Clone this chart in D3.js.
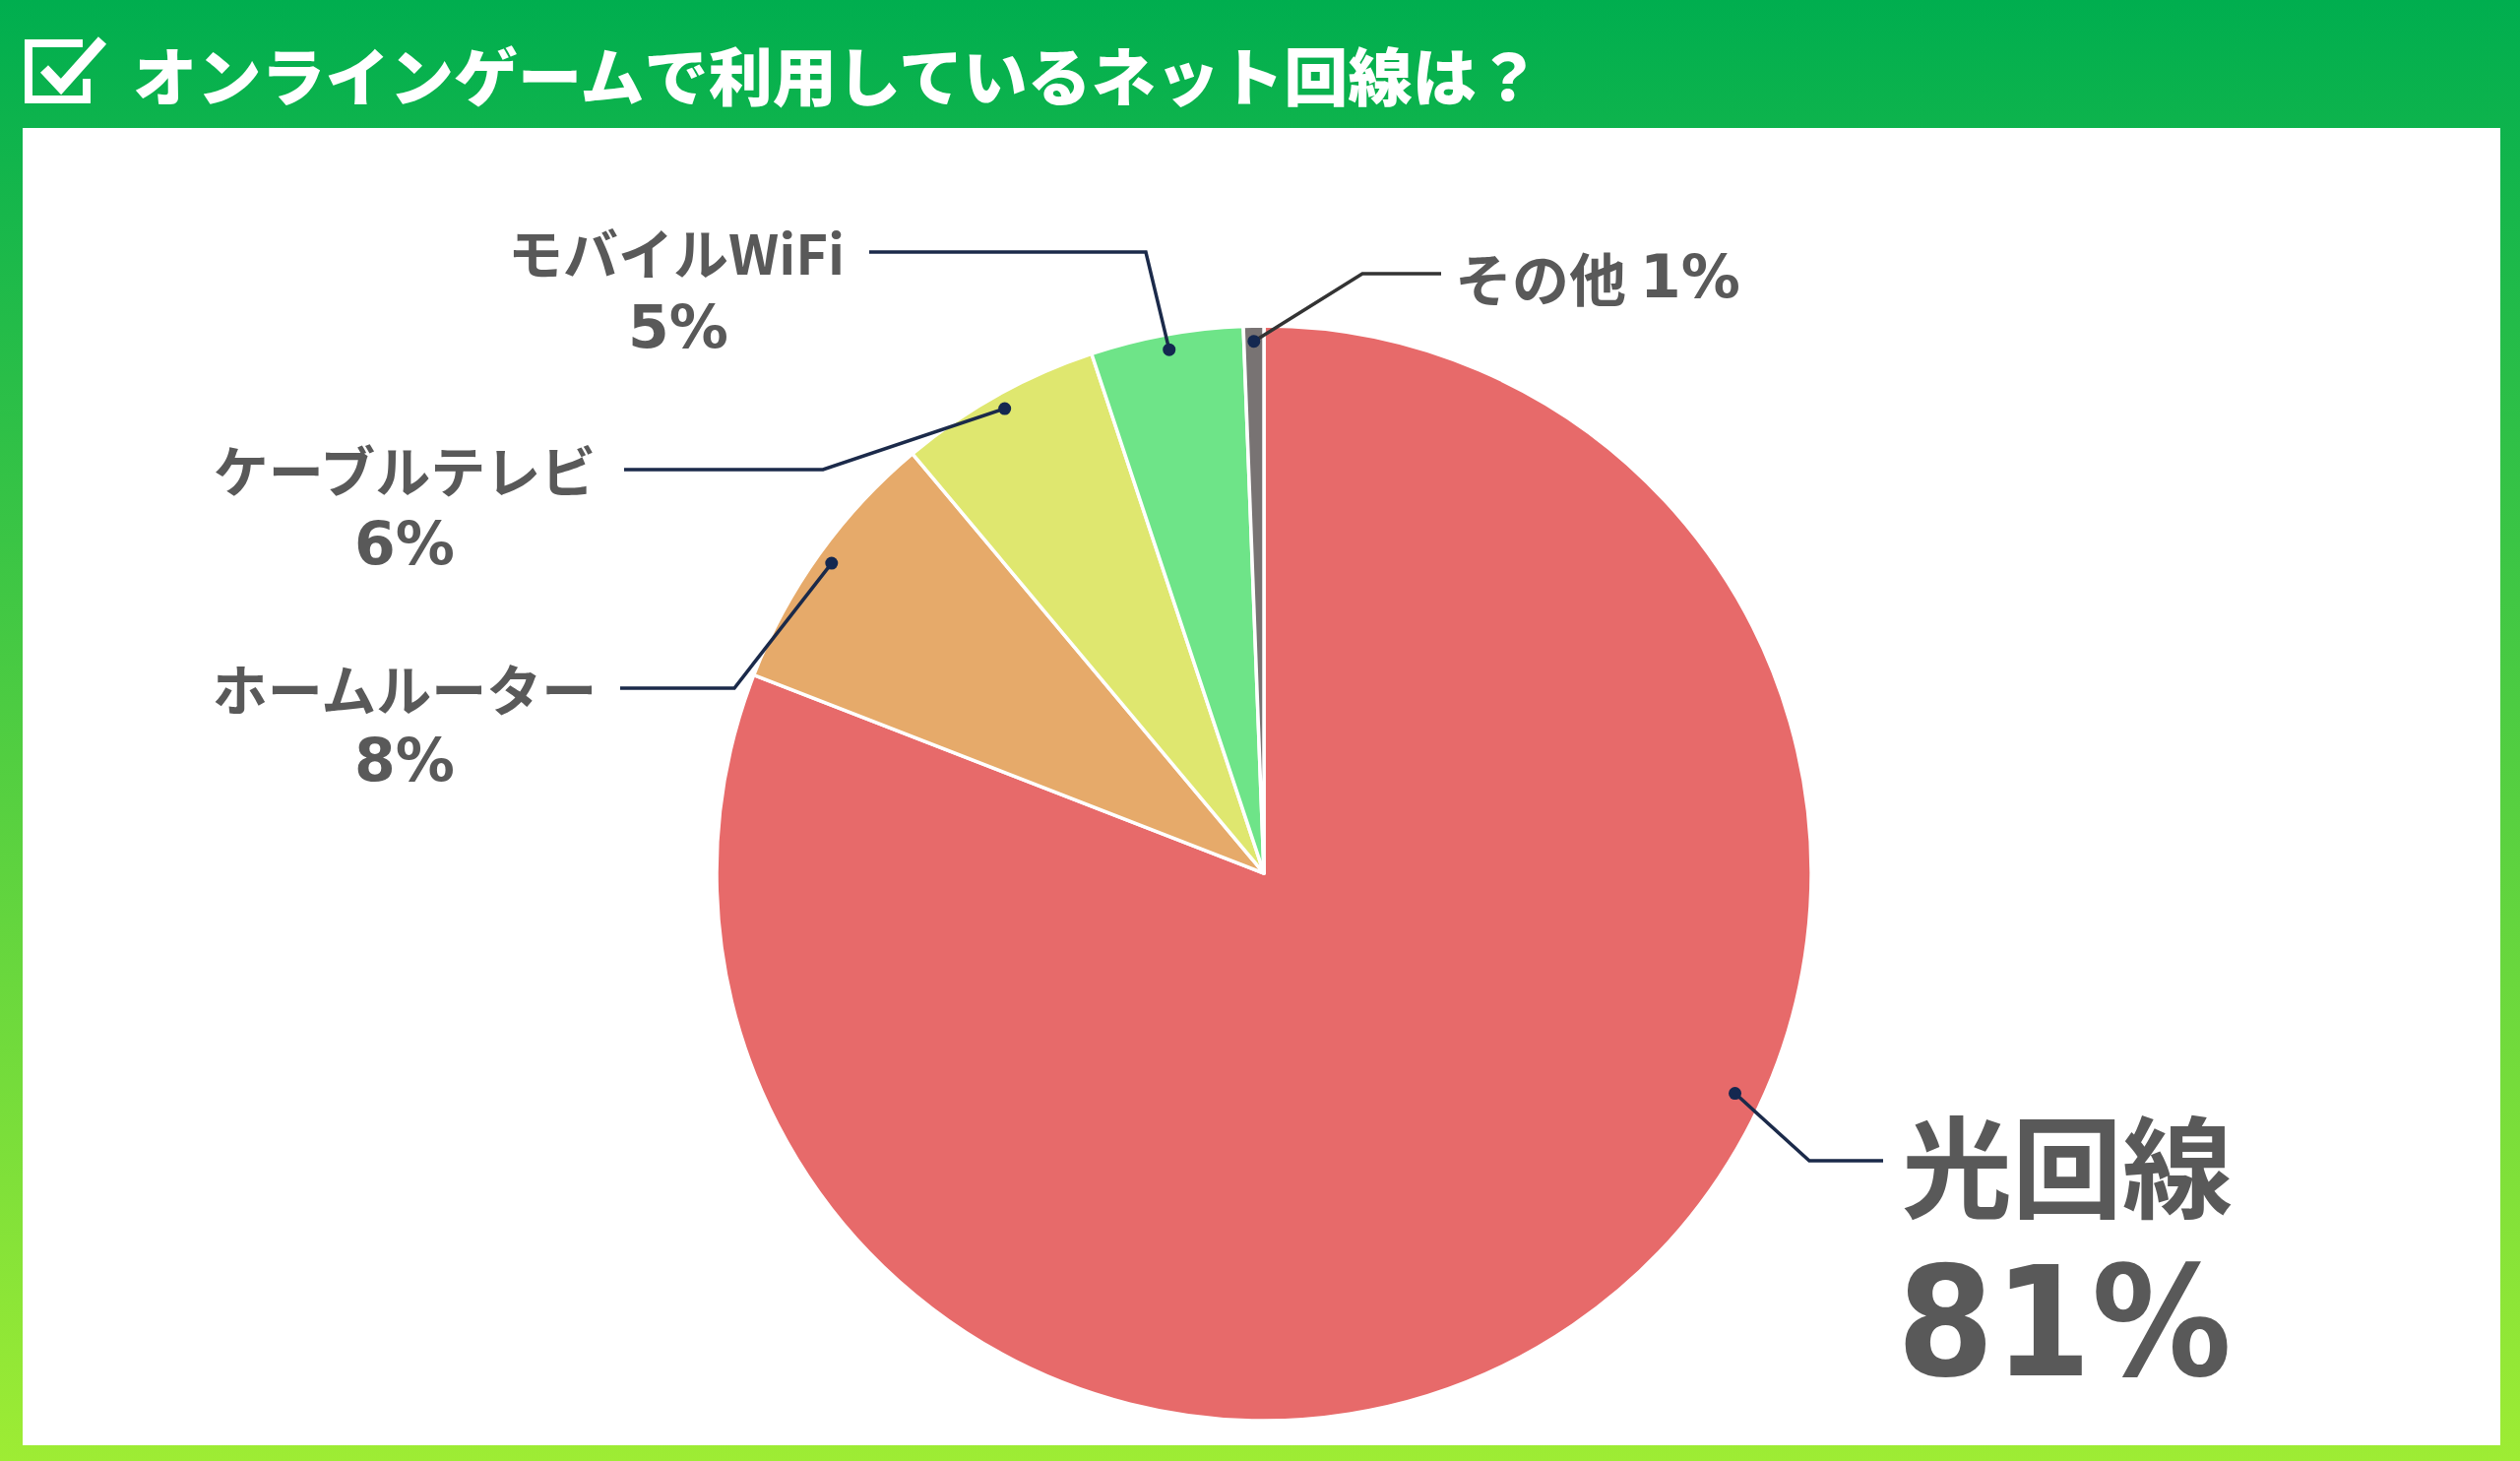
<!DOCTYPE html>
<html>
<head>
<meta charset="utf-8">
<script src="https://cdn.jsdelivr.net/npm/d3@7"></script>
<style>
  html, body { margin: 0; padding: 0; background: #fff; }
  svg { display: block; }
</style>
</head>
<body>
<div id="chart-area"></div>
<script>
// data (share of respondents, %)
const categories = ["光回線", "ホームルーター", "ケーブルテレビ", "モバイルWiFi", "その他"];
const values = [80.9, 8.0, 6.0, 4.5, 0.6];
const colors = ["#E76A6A", "#E6AA6A", "#DFE76F", "#6EE488", "#787373"];
const title = "オンラインゲームで利用しているネット回線は？";

let width = 2560, height = 1484;
let cx = 1284, cy = 887, radius = 556;

// label placement (layout only), keyed by category
let labelLayout = {
	"光回線":       {x: 2100, y: 1180, x2: 2097, y2: 1343, size: 112, pctSize: 155, fit: 340, elbow: [[1913, 1179], [1838, 1179]], frac: 0.395, r: 0.95},
	"ホームルーター": {x: 411, y: 697, x2: 411, y2: 772, size: 56, pctSize: 60, elbow: [[630, 699], [746, 699]], frac: 0.5},
	"ケーブルテレビ": {x: 411, y: 475, x2: 411, y2: 552, size: 56, pctSize: 60, elbow: [[634, 477], [836, 477]], frac: 0.5},
	"モバイルWiFi":  {x: 687, y: 254, x2: 689, y2: 332, size: 56, pctSize: 60, elbow: [[883, 256], [1164, 256]], frac: 0.5},
	"その他":       {x: 1478, y: 281, inline: true, size: 58, pctSize: 60, elbow: [[1464, 278], [1384, 278]], frac: 0.5, lineColor: "#333333"}
};

let svg = d3.select("#chart-area").append("svg")
	.attr("width", width)
	.attr("height", height);

// background gradient
let defs = svg.append("defs");
let grad = defs.append("linearGradient")
	.attr("id", "bg").attr("x1", 0).attr("y1", 0).attr("x2", 0).attr("y2", 1);
grad.append("stop").attr("offset", "0%").attr("stop-color", "#00AE4F");
grad.append("stop").attr("offset", "100%").attr("stop-color", "#9EEC34");

svg.append("rect").attr("width", width).attr("height", height).attr("fill", "url(#bg)");

// white panel
svg.append("rect")
	.attr("x", 23).attr("y", 130)
	.attr("width", 2517).attr("height", 1338)
	.attr("fill", "#ffffff");

// check icon
let icon = svg.append("g").attr("fill", "none").attr("stroke", "#ffffff");
icon.append("path")
	.attr("d", "M84,44 L29,44 L29,101 L88,101 L88,80")
	.attr("stroke-width", 8);
icon.append("path")
	.attr("d", "M45,70 L62,88 L104,41")
	.attr("stroke-width", 11);

// title
svg.append("text")
	.attr("x", 135).attr("y", 74)
	.attr("dominant-baseline", "central")
	.attr("font-family", "'Noto Sans CJK JP', 'Noto Sans', sans-serif")
	.attr("font-weight", 900)
	.attr("font-size", 64)
	.attr("fill", "#ffffff")
	.attr("textLength", 1430)
	.attr("lengthAdjust", "spacingAndGlyphs")
	.text(title);

// pie
let data = categories.map((c, i) => ({name: c, value: values[i], color: colors[i]}));

let pie = d3.pie().sort(null).value(d => d.value);
let arc = d3.arc().innerRadius(0).outerRadius(radius);
let arcs = pie(data);

let g = svg.append("g").attr("transform", "translate(" + cx + "," + cy + ")");

g.selectAll("path.slice")
	.data(arcs)
	.enter().append("path")
	.attr("class", "slice")
	.attr("d", arc)
	.attr("fill", d => d.data.color)
	.attr("stroke", "#ffffff")
	.attr("stroke-width", 3.5)
	.attr("stroke-linejoin", "round");

// leader lines + dots
arcs.forEach(d => {
	let L = labelLayout[d.data.name];
	let a = d.startAngle + (d.endAngle - d.startAngle) * L.frac;
	let rr = radius * (L.r || 0.972);
	let dx = cx + rr * Math.sin(a);
	let dy = cy - rr * Math.cos(a);
	let pts = L.elbow.concat([[dx, dy]]);
	svg.append("path")
		.attr("d", d3.line()(pts))
		.attr("fill", "none")
		.attr("stroke", L.lineColor || "#1B2A4A")
		.attr("stroke-width", 3.5);
	svg.append("circle")
		.attr("cx", dx).attr("cy", dy)
		.attr("r", 6.5)
		.attr("fill", "#142850");
});

// labels
let jp = "'Noto Sans CJK JP', 'Noto Sans', sans-serif";
let num = "'DejaVu Sans', Verdana, sans-serif";
arcs.forEach(d => {
	let L = labelLayout[d.data.name];
	let pct = Math.round(d.data.value) + "%";
	if (L.inline) {
		let t = svg.append("text")
			.attr("x", L.x).attr("y", L.y)
			.attr("dominant-baseline", "central")
			.attr("fill", "#595959")
			.attr("font-weight", 700);
		t.append("tspan").attr("font-family", jp).attr("font-size", L.size).text(d.data.name);
		t.append("tspan").attr("font-family", num).attr("font-size", L.pctSize).attr("dx", 14).text(pct);
		return;
	}
	svg.append("text")
		.attr("x", L.x).attr("y", L.y)
		.attr("text-anchor", "middle")
		.attr("dominant-baseline", "central")
		.attr("font-family", jp)
		.attr("font-weight", 700)
		.attr("font-size", L.size)
		.attr("fill", "#595959")
		.text(d.data.name);
	let p = svg.append("text")
		.attr("x", L.x2).attr("y", L.y2)
		.attr("text-anchor", "middle")
		.attr("dominant-baseline", "central")
		.attr("font-family", num)
		.attr("font-weight", 700)
		.attr("font-size", L.pctSize)
		.attr("fill", "#595959")
		.text(pct);
	if (L.fit) p.attr("textLength", L.fit).attr("lengthAdjust", "spacingAndGlyphs");
});
</script>
</body>
</html>
